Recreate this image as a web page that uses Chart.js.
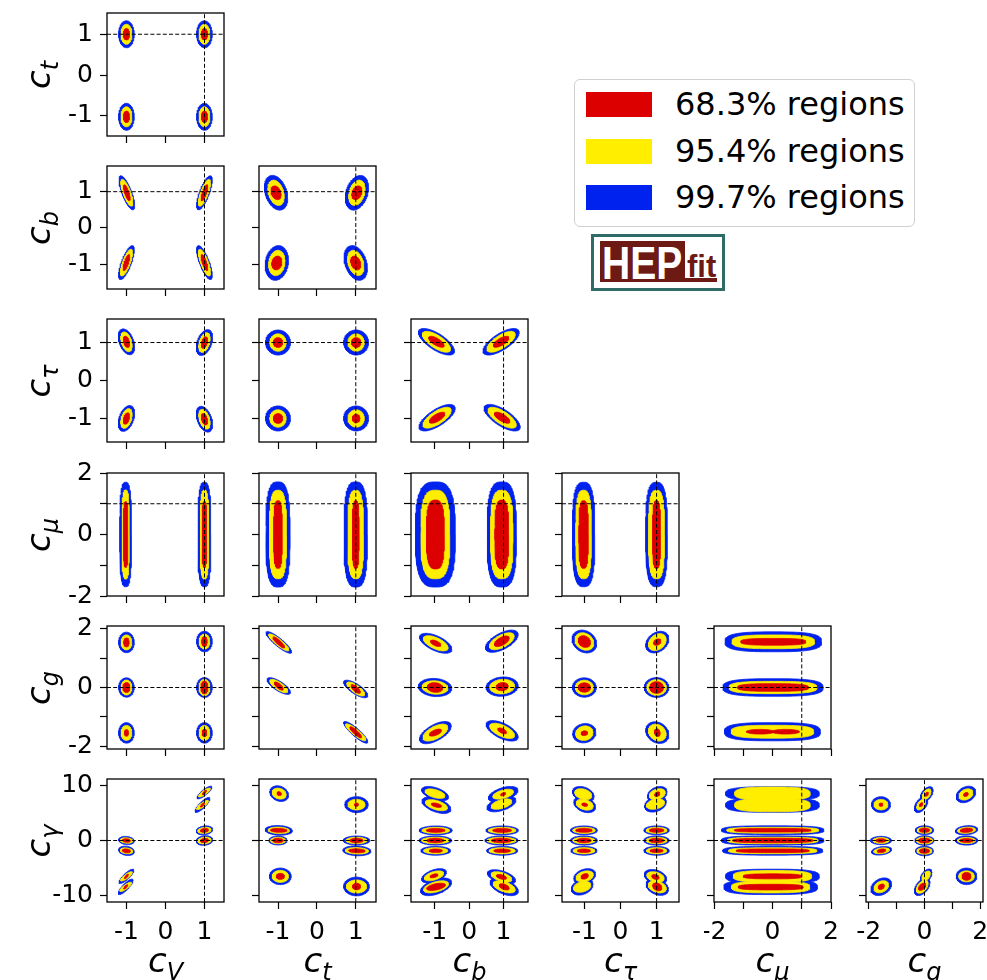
<!DOCTYPE html>
<html>
<head>
<meta charset="utf-8">
<script src="https://cdn.jsdelivr.net/npm/chart.js@4.4.1/dist/chart.umd.min.js"></script>
<style>
  html, body { margin: 0; padding: 0; background: #fff; overflow: hidden; }
  #page { position: relative; width: 987px; height: 980px; overflow: hidden; background: #fff; }
  #page canvas { position: absolute; }
  .lab { position: absolute; font-family: 'DejaVu Sans'; font-size: 34px; line-height: 34px;
         font-style: italic; white-space: nowrap; color: #000; }
  .lab sub { font-size: 24px; vertical-align: baseline; position: relative; top: 8px; }
  .xlab { transform: translate(-50%, -50%); }
  .ylab { transform: translate(-50%, -50%) rotate(-90deg); }
  #legend { position: absolute; left: 574px; top: 79px; width: 341px; height: 148px; box-sizing: border-box;
            border: 1px solid #d0d0d0; border-radius: 6px; background: #fff; }
  #legend .patch { position: absolute; left: 11px; width: 66px; height: 25px; }
  #legend .txt { position: absolute; left: 100px; height: 25px; line-height: 25px; font-family: 'DejaVu Sans';
                 font-size: 32px; white-space: nowrap; color: #000; }
  #logo { position: absolute; left: 591px; top: 234px; width: 134px; height: 57px; box-sizing: border-box;
          border: 3px solid #2f6c67; background: #fff; overflow: hidden; }
  #logo .box { position: absolute; background: #6d1a14; }
  #logo .hep { position: absolute; left: 8px; top: 2px; font-family: 'Liberation Sans'; font-weight: bold;
               font-size: 47px; line-height: 47px; color: #fff; transform: scaleX(0.83); transform-origin: 0 0; }
  #logo .fit { position: absolute; left: 93px; top: 14px; font-family: 'Liberation Sans'; font-weight: bold;
               font-size: 31px; line-height: 31px; color: #6d1a14; }
</style>
</head>
<body>
<div id="page"></div>
<script>
// ---- couplings and axes ----------------------------------------------------
const COUPLINGS   = ['V', 't', 'b', 'τ', 'μ', 'g', 'γ'];
const AXIS_MIN    = [-1.5, -1.49, -1.69, -1.62, -2, -2.1, -11.15];
const AXIS_MAX    = [ 1.5,  1.52,  1.71,  1.62,  2,  2.1,  11.15];
const TICK_VALUES = [[-1, 0, 1], [-1, 0, 1], [-1, 0, 1], [-1, 0, 1],
                     [-2, -1, 0, 1, 2], [-2, -1, 0, 1, 2], [-10, 0, 10]];
const TICK_LABELS = [['-1', '0', '1'], ['-1', '0', '1'], ['-1', '0', '1'], ['-1', '0', '1'],
                     ['-2', '', '0', '', '2'], ['-2', '', '0', '', '2'], ['-10', '0', '10']];
const SM_VALUE    = [1, 1, 1, 1, 1, 0, 0];   // Standard Model point (dashed lines)

// ---- probability levels ----------------------------------------------------
const LEVEL_NAMES  = ['68.3% regions', '95.4% regions', '99.7% regions'];
const LEVEL_COLORS = ['#dd0000', '#ffee00', '#0022ee'];

// A credible island: centre (x, y), half extents along x and y for the
// 68.3 / 95.4 / 99.7 % levels, correlation rho and a squareness exponent p.
function R(x, y, w, h, rho = 0, p = 2) { return { x, y, w, h, rho, p }; }

// ---- 2D marginal regions, one list per panel ---------------------------------
const REG_T_V = [
  R(-1, 1, [.08, .14, .2], [.14, .245, .33]), R(1, 1, [.08, .14, .2], [.14, .245, .33]),
  R(-1, -1.02, [.08, .14, .2], [.14, .245, .33]), R(1, -1.02, [.08, .14, .2], [.14, .245, .33])
];
const REG_B_V = [
  R(-0.99, 0.97, [.085, .155, .2], [.22, .37, .47], -0.75), R(1.0, 0.97, [.085, .155, .2], [.22, .37, .47], 0.75),
  R(-1.0, -0.96, [.085, .155, .2], [.22, .37, .47], 0.75), R(1.0, -0.96, [.085, .155, .2], [.22, .37, .47], -0.75)
];
const REG_B_T = [
  R(-1.05, 0.97, [.13, .21, .3], [.19, .35, .48], -0.3), R(1.03, 0.97, [.13, .21, .3], [.19, .35, .48], 0.3),
  R(-1.03, -0.97, [.13, .21, .3], [.19, .35, .48], 0.15), R(1.0, -0.97, [.13, .21, .3], [.19, .35, .48], -0.3)
];
const REG_TAU_V = [
  R(-1, 1.02, [.08, .146, .21], [.15, .26, .34], -0.4), R(1, 1.0, [.08, .146, .21], [.15, .26, .34], 0.4),
  R(-1, -1.0, [.08, .146, .21], [.15, .26, .34], 0.4), R(1, -1.02, [.08, .146, .21], [.15, .26, .34], -0.4)
];
const REG_TAU_T = [
  R(-1, 1, [.12, .21, .32], [.13, .23, .33]), R(1.01, 1, [.12, .21, .32], [.13, .23, .33]),
  R(-1, -1, [.12, .21, .32], [.13, .23, .33]), R(1.01, -1, [.1, .21, .32], [.11, .23, .33])
];
const REG_TAU_B = [
  R(-0.95, 1.02, [.225, .41, .525], [.145, .275, .35], -0.7), R(0.93, 1.02, [.225, .41, .525], [.145, .275, .35], 0.7),
  R(-0.93, -0.98, [.225, .41, .525], [.145, .275, .35], 0.7), R(0.96, -0.98, [.225, .41, .525], [.145, .275, .35], -0.7)
];
const REG_MU_V = [
  R(-1.02, 0, [.058, .093, .15], [1.07, 1.45, 1.7], 0, 3), R(1.0, 0, [.06, .11, .165], [1.07, 1.45, 1.7], 0, 3)
];
const REG_MU_T = [
  R(-1.0, 0, [.11, .22, .31], [1.1, 1.44, 1.71], 0, 3), R(1.0, 0, [.087, .2, .3], [1.1, 1.44, 1.71], 0, 3)
];
const REG_MU_B = [
  R(-0.98, 0, [.26, .42, .58], [1.12, 1.44, 1.71], 0, 3), R(0.95, 0, [.2, .325, .425], [1.12, 1.44, 1.71], 0, 3)
];
const REG_MU_TAU = [
  R(-1.02, 0, [.13, .215, .31], [1.1, 1.44, 1.7], 0, 3), R(1.0, 0, [.11, .22, .3], [1.1, 1.44, 1.7], 0, 3)
];
const REG_G_V = [
  R(-1, 1.54, [.07, .137, .2], [.154, .257, .35]), R(-1, 0, [.09, .137, .2], [.17, .257, .33]),
  R(-1, -1.55, [.053, .137, .2], [.114, .257, .35]), R(1, 1.57, [.07, .137, .2], [.17, .257, .35]),
  R(1, 0, [.09, .14, .2], [.22, .28, .34]), R(1, -1.55, [.06, .137, .2], [.13, .257, .35])
];
const REG_G_T = [
  R(-0.98, 1.54, [.15, .26, .33], [.19, .29, .37], -0.88), R(-0.98, 0.05, [.113, .23, .3], [.14, .23, .285], -0.75),
  R(1.0, -0.05, [.12, .23, .31], [.15, .24, .3], -0.75), R(1.0, -1.53, [.15, .26, .31], [.19, .29, .37], -0.88)
];
const REG_G_B = [
  R(-0.97, 1.51, [.15, .36, .47], [.11, .26, .34], -0.6), R(0.95, 1.58, [.215, .36, .475], [.18, .29, .38], 0.6),
  R(-0.99, 0, [.225, .375, .485], [.165, .23, .31], -0.1), R(0.96, 0.03, [.175, .36, .465], [.14, .25, .33], 0.1),
  R(-0.98, -1.54, [.175, .36, .46], [.12, .29, .38], 0.6), R(0.96, -1.48, [.125, .36, .465], [.1, .26, .35], -0.6)
];
const REG_G_TAU = [
  R(-1.0, 1.57, [.17, .26, .34], [.2, .3, .39], -0.2), R(1.02, 1.55, [.1, .245, .32], [.11, .29, .37], 0.3),
  R(-1.0, 0, [.17, .25, .33], [.16, .25, .33]), R(1.0, 0, [.19, .27, .34], [.2, .27, .34]),
  R(-1.0, -1.56, [.09, .24, .32], [.08, .25, .33], 0.1), R(1.02, -1.54, [.08, .245, .32], [.13, .29, .37], -0.2)
];
const REG_G_MU = [
  R(0.03, 1.56, [1.11, 1.41, 1.65], [.115, .235, .34], 0, 3), R(0.02, 0, [1.21, 1.5, 1.71], [.13, .21, .3], 0, 3),
  R(0, -1.51, [0, 1.41, 1.64], [0, .22, .31], 0, 3),
  R(-0.42, -1.51, [.47, 0, 0], [.08, 0, 0]), R(0.45, -1.51, [.47, 0, 0], [.08, 0, 0])
];
const REG_GAM_V = [
  R(1.0, 8.7, [.05, .15, .19], [.4, .82, 1.15], 0.85), R(0.95, 6.45, [.05, .15, .19], [.4, .85, 1.36], 0.85),
  R(1.0, 1.84, [.1, .17, .21], [.36, .57, .82], 0.2), R(1.0, 0, [.1, .17, .21], [.4, .63, .88], 0.15),
  R(-1.0, 0, [.1, .16, .2], [.33, .5, .75], -0.15), R(-1.0, -1.87, [.1, .16, .2], [.35, .55, .85], -0.2),
  R(-1.0, -6.5, [.05, .15, .19], [.4, .85, 1.3], 0.85), R(-1.02, -8.4, [.05, .15, .19], [.4, .85, 1.4], 0.85)
];
const REG_GAM_T = [
  R(-0.97, 8.5, [.055, .18, .24], [.36, 1.0, 1.42], -0.2), R(1.02, 6.5, [.05, .22, .3], [.3, .97, 1.45]),
  R(-0.98, 1.84, [.21, .275, .35], [.36, .6, .88], -0.1), R(-1.0, 0, [.135, .19, .23], [.4, .6, .82]),
  R(1.02, 0, [.17, .27, .34], [.4, .6, .82]), R(1.03, -1.87, [.21, .3, .36], [.36, .6, .9], -0.1),
  R(-0.94, -6.5, [.105, .21, .28], [.55, 1.1, 1.5]), R(1.02, -8.34, [.105, .26, .33], [.6, 1.2, 1.7])
];
const REG_GAM_B = [
  R(-0.99, 8.5, [0, .29, .39], [0, .87, 1.3], -0.5), R(-0.95, 6.4, [.145, .32, .42], [.4, 1.0, 1.5], -0.5),
  R(0.99, 8.4, [.07, .3, .43], [.3, .9, 1.4], 0.5), R(0.94, 6.6, [0, .3, .42], [0, .95, 1.4], 0.5),
  R(-0.97, 1.83, [.27, .4, .48], [.36, .57, .81]), R(-0.98, 0, [.25, .4, .47], [.4, .6, .84]),
  R(-0.97, -1.86, [.19, .35, .43], [.33, .57, .81]), R(0.96, 1.83, [.27, .4, .47], [.36, .57, .81]),
  R(0.94, 0, [.29, .42, .48], [.4, .6, .84]), R(0.96, -1.86, [.24, .38, .45], [.33, .57, .81]),
  R(-1.02, -6.4, [.115, .28, .36], [.36, .9, 1.3], 0.5), R(-0.96, -8.4, [.27, .36, .45], [.66, 1.1, 1.6], 0.5),
  R(0.94, -6.6, [.145, .3, .41], [.45, .95, 1.3], -0.5), R(1.02, -8.4, [.145, .32, .41], [.57, 1.1, 1.6], -0.5)
];
const REG_GAM_TAU = [
  R(-1.03, 8.4, [0, .235, .3], [0, 1.0, 1.4], -0.3), R(-0.99, 6.5, [.077, .235, .3], [.3, 1.0, 1.45], -0.3),
  R(1.02, 8.4, [.07, .22, .27], [.42, 1.0, 1.4], 0.3), R(0.97, 6.6, [0, .25, .3], [0, .95, 1.45], 0.3),
  R(-1.01, 1.84, [.225, .31, .37], [.36, .57, .81]), R(-1.01, 0, [.2, .31, .37], [.4, .6, .84]),
  R(-1.01, -1.86, [.18, .3, .36], [.33, .57, .81]), R(1.0, 1.84, [.2, .29, .35], [.36, .57, .81]),
  R(1.0, 0, [.2, .29, .35], [.4, .6, .84]), R(1.0, -1.86, [.18, .28, .35], [.33, .57, .81]),
  R(-0.99, -6.5, [.1, .24, .3], [.5, 1.0, 1.4], 0.3), R(-1.06, -8.4, [0, .24, .3], [0, 1.0, 1.5], 0.3),
  R(0.97, -6.6, [.1, .24, .31], [.45, .95, 1.35], -0.3), R(1.02, -8.4, [.125, .25, .31], [.72, 1.1, 1.55], -0.3)
];
const REG_GAM_MU = [
  R(0, 8.5, [0, 1.29, 1.6], [0, 1.2, 1.25], 0, 3), R(0, 6.4, [0, 1.29, 1.6], [0, 1.2, 1.3], 0, 3),
  R(0.01, 1.86, [1.31, 1.57, 1.75], [.33, .54, .8], 0, 3), R(0.01, 0, [1.37, 1.55, 1.75], [.4, .6, .84], 0, 3),
  R(0.01, -1.86, [1.25, 1.51, 1.71], [.33, .54, .8], 0, 3),
  R(0, -6.5, [1.0, 1.34, 1.6], [.45, 1.05, 1.3], 0, 3), R(-0.06, -8.45, [1.11, 1.34, 1.6], [.51, 1.05, 1.35], 0, 3)
];
const REG_GAM_G = [
  R(-1.56, 6.5, [.07, .25, .34], [.3, .96, 1.44]), R(0.08, 8.4, [.06, .155, .23], [.36, .96, 1.35], 0.5),
  R(-0.12, 6.5, [.06, .155, .24], [.36, .96, 1.44], 0.5), R(1.49, 8.35, [.08, .25, .35], [.36, 1.02, 1.5], 0.3),
  R(-1.56, 0, [.17, .29, .375], [.33, .54, .75]), R(-1.54, -1.86, [.15, .28, .36], [.33, .54, .78], 0.3),
  R(0, 1.86, [.18, .26, .33], [.39, .57, .81]), R(0, 0, [.21, .29, .34], [.45, .65, .87]),
  R(0, -1.9, [.18, .27, .32], [.42, .6, .87]), R(1.51, 1.86, [.22, .32, .4], [.39, .57, .84], 0.2),
  R(1.51, 0, [.23, .32, .4], [.36, .57, .84]), R(-1.55, -8.38, [.11, .26, .37], [.5, 1.1, 1.6], 0.3),
  R(0.06, -6.43, [0, .15, .21], [0, .9, 1.26], 0.5), R(-0.08, -8.38, [.13, .21, .28], [.66, 1.2, 1.6], 0.5),
  R(1.51, -6.5, [.16, .28, .37], [.72, 1.0, 1.5])
];

// panel key: "<y coupling>_<x coupling>"
const PANEL_REGIONS = {
  '1_0': REG_T_V,
  '2_0': REG_B_V,   '2_1': REG_B_T,
  '3_0': REG_TAU_V, '3_1': REG_TAU_T, '3_2': REG_TAU_B,
  '4_0': REG_MU_V,  '4_1': REG_MU_T,  '4_2': REG_MU_B,  '4_3': REG_MU_TAU,
  '5_0': REG_G_V,   '5_1': REG_G_T,   '5_2': REG_G_B,   '5_3': REG_G_TAU,  '5_4': REG_G_MU,
  '6_0': REG_GAM_V, '6_1': REG_GAM_T, '6_2': REG_GAM_B, '6_3': REG_GAM_TAU, '6_4': REG_GAM_MU, '6_5': REG_GAM_G
};

// ---- page geometry ---------------------------------------------------------
const COL_LEFT = [107, 259, 411, 562, 714, 866];
const ROW_TOP  = [13, 166, 319, 473, 626, 779];
const PW = 117, PH = 123;
const page = document.getElementById('page');
const FONT = 'DejaVu Sans';

// outline of one island in data coordinates
function outline(reg, level) {
  const N = 96, e = 2 / reg.p, phi = Math.asin(reg.rho);
  const rx = reg.w[level], ry = reg.h[level], pts = [];
  for (let i = 0; i <= N; i++) {
    const t = 2 * Math.PI * i / N, c = Math.cos(t), s = Math.sin(t);
    const u = Math.sign(c) * Math.pow(Math.abs(c), e);
    const v = Math.sign(s) * Math.pow(Math.abs(s), e);
    pts.push({ x: reg.x + rx * u, y: reg.y + ry * (v * Math.cos(phi) + u * Math.sin(phi)) });
  }
  return pts;
}

const framePlugin = {
  id: 'frame',
  afterDatasetsDraw(chart) {
    const { ctx, chartArea: a } = chart;
    ctx.save();
    ctx.strokeStyle = '#000';
    ctx.lineWidth = 1.3;
    ctx.strokeRect(a.left, a.top, a.right - a.left, a.bottom - a.top);
    ctx.restore();
  }
};

function axis(vi, pos, showLabels, size) {
  return {
    type: 'linear', position: pos, min: AXIS_MIN[vi], max: AXIS_MAX[vi],
    afterBuildTicks: s => { s.ticks = TICK_VALUES[vi].map(v => ({ value: v })); },
    ticks: {
      display: showLabels, autoSkip: false, maxRotation: 0, minRotation: 0,
      padding: pos === 'left' ? 7 : 8, color: '#000',
      font: { family: FONT, size: 25 },
      callback: v => { const k = TICK_VALUES[vi].indexOf(v); return k < 0 ? '' : TICK_LABELS[vi][k]; }
    },
    grid: { display: true, drawOnChartArea: false, drawTicks: true, tickLength: 7,
            tickColor: '#000', tickWidth: 1.2, color: '#000' },
    border: { display: false },
    afterFit: s => {
      if (pos === 'left') s.width = size; else s.height = size;
      s.paddingLeft = s.paddingRight = s.paddingTop = s.paddingBottom = 0;
    }
  };
}

function makePanel(yi, xi) {
  const row = yi - 1, col = xi;
  const L = col === 0 ? COL_LEFT[0] : 10;
  const B = row === 5 ? 60 : 10;
  const T = 18, RP = 18;
  const cv = document.createElement('canvas');
  cv.width = L + PW + RP; cv.height = T + PH + B;
  cv.style.width = cv.width + 'px'; cv.style.height = cv.height + 'px';
  cv.style.left = (COL_LEFT[col] - L) + 'px';
  cv.style.top = (ROW_TOP[row] - T) + 'px';
  page.appendChild(cv);

  const regions = PANEL_REGIONS[yi + '_' + xi];
  const datasets = [];
  for (let level = 2; level >= 0; level--) {
    for (const reg of regions) {
      if (!(reg.w[level] > 0)) continue;
      datasets.push({
        data: outline(reg, level), showLine: true, fill: 'shape',
        backgroundColor: LEVEL_COLORS[level], borderColor: LEVEL_COLORS[level],
        borderWidth: 0.8, pointRadius: 0, order: level + 1
      });
    }
  }
  const sx = SM_VALUE[xi], sy = SM_VALUE[yi];
  const dash = { showLine: true, fill: false, borderColor: '#000', borderWidth: 1,
                 borderDash: [4, 2.2], pointRadius: 0, order: 0 };
  datasets.push(Object.assign({ data: [{ x: sx, y: AXIS_MIN[yi] }, { x: sx, y: AXIS_MAX[yi] }] }, dash));
  datasets.push(Object.assign({ data: [{ x: AXIS_MIN[xi], y: sy }, { x: AXIS_MAX[xi], y: sy }] }, dash));

  new Chart(cv, {
    type: 'scatter',
    data: { datasets },
    options: {
      responsive: false, animation: false, devicePixelRatio: 1, events: [],
      layout: { autoPadding: false, padding: { left: 0, top: T, right: RP, bottom: 0 } },
      plugins: { legend: { display: false }, tooltip: { enabled: false } },
      scales: {
        x: axis(xi, 'bottom', row === 5, B),
        y: axis(yi, 'left', col === 0, L)
      }
    },
    plugins: [framePlugin]
  });
}

for (let yi = 1; yi <= 6; yi++) for (let xi = 0; xi < yi; xi++) makePanel(yi, xi);

// ---- axis titles -------------------------------------------------------------
function title(sub, cls, x, y) {
  const d = document.createElement('div');
  d.className = 'lab ' + cls;
  d.innerHTML = 'c<sub>' + sub + '</sub>';
  d.style.left = x + 'px'; d.style.top = y + 'px';
  page.appendChild(d);
}
for (let c = 0; c < 6; c++) title(COUPLINGS[c], 'xlab', COL_LEFT[c] + PW / 2, 962);
for (let r = 0; r < 6; r++) title(COUPLINGS[r + 1], 'ylab', 40, ROW_TOP[r] + PH / 2);

// ---- legend ------------------------------------------------------------------
const legend = document.createElement('div');
legend.id = 'legend';
LEVEL_NAMES.forEach((name, i) => {
  const top = 12 + i * 46.7;
  const p = document.createElement('div');
  p.className = 'patch'; p.style.top = top + 'px'; p.style.background = LEVEL_COLORS[i];
  const t = document.createElement('div');
  t.className = 'txt'; t.style.top = top + 'px'; t.textContent = name;
  legend.appendChild(p); legend.appendChild(t);
});
page.appendChild(legend);

// ---- HEPfit badge --------------------------------------------------------------
const logo = document.createElement('div');
logo.id = 'logo';
logo.innerHTML =
  '<div class="box" style="left:6px;top:4px;width:85px;height:41px"></div>' +
  '<div class="box" style="left:91px;top:41px;width:32px;height:4px"></div>' +
  '<div class="hep">HEP</div><div class="fit">fit</div>';
page.appendChild(logo);
</script>
</body>
</html>
